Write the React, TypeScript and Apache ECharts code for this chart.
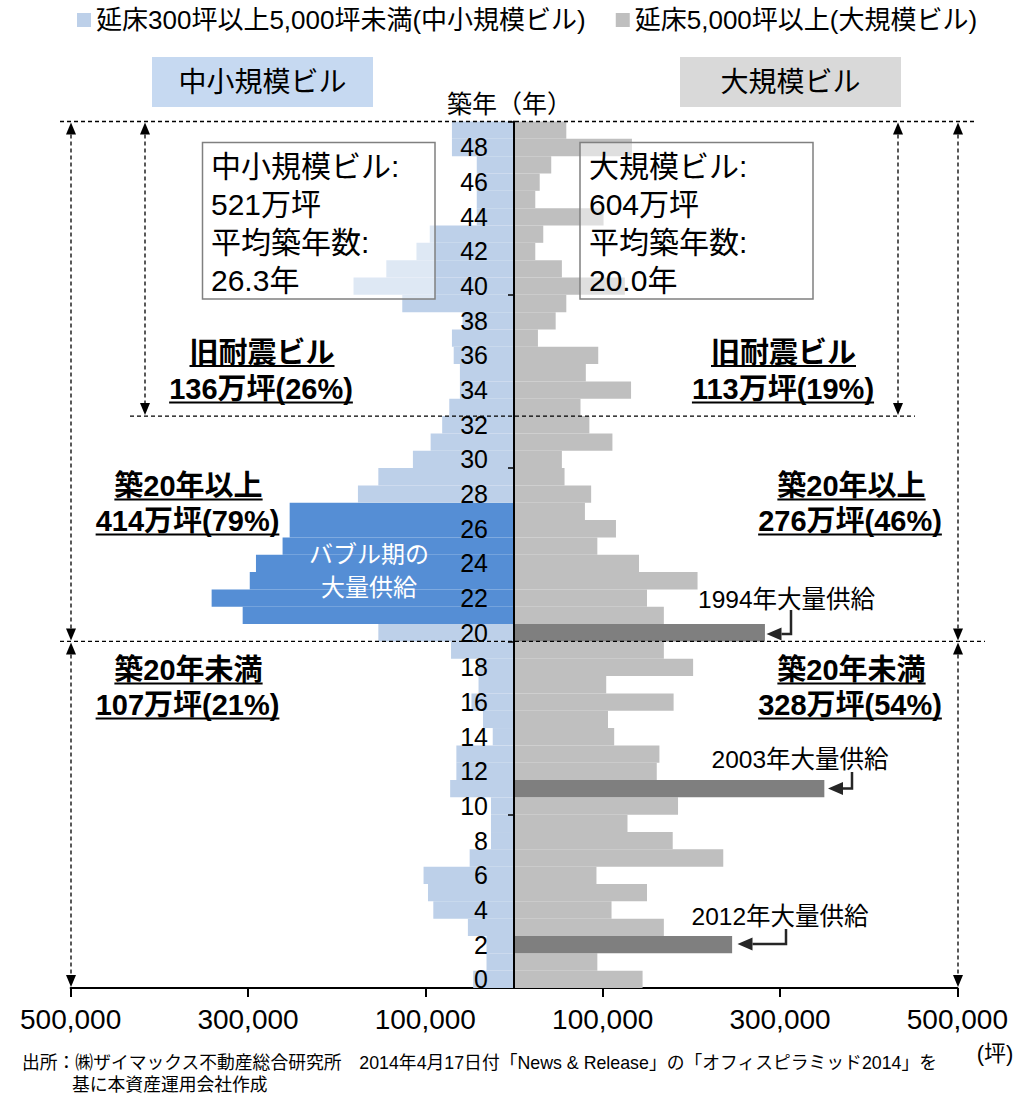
import React, { useEffect, useRef } from "react";
import * as echarts from "echarts";

// ---------------- DATA ----------------
const ages = [
  "0", "1", "2", "3", "4", "5", "6", "7", "8", "9",
  "10", "11", "12", "13", "14", "15", "16", "17", "18", "19",
  "20", "21", "22", "23", "24", "25", "26", "27", "28", "29",
  "30", "31", "32", "33", "34", "35", "36", "37", "38", "39",
  "40", "41", "42", "43", "44", "45", "46", "47", "48", "49",
];
// 延床300坪以上5,000坪未満 (坪), index = 築年
const smallBldg = [
  46000, 31000, 31000, 52000, 91000, 97000, 102000, 50000, 26000, 26000,
  26000, 72000, 65000, 65000, 24000, 35000, 48000, 40000, 40000, 71000,
  153000, 306000, 341000, 298000, 291000, 261000, 253000, 253000, 176000, 153000,
  114000, 94000, 81000, 73000, 61000, 61000, 68000, 70000, 58000, 126000,
  181000, 144000, 110000, 95000, 42000, 42000, 42000, 42000, 70000, 70000,
];
// 延床5,000坪以上 (坪), index = 築年
const largeBldg = [
  145000, 94000, 246000, 169000, 110000, 150000, 93000, 236000, 179000, 128000,
  185000, 350000, 161000, 164000, 113000, 106000, 180000, 104000, 202000, 169000,
  283000, 169000, 150000, 207000, 141000, 94000, 115000, 80000, 87000, 57000,
  54000, 111000, 85000, 75000, 132000, 81000, 95000, 27000, 47000, 59000,
  125000, 54000, 24000, 33000, 101000, 24000, 29000, 42000, 133000, 59000,
];
const bubbleAges = ["21", "22", "23", "24", "25", "26", "27"];
const peakAges = ["2", "11", "20"];
const seriesNames = ["延床300坪以上5,000坪未満(中小規模ビル)", "延床5,000坪以上(大規模ビル)"];
const tickAges = ["10", "20", "30", "40"];

// ---------------- STYLE ----------------
const FONT = '"Liberation Sans", "Noto Sans CJK JP", sans-serif';
const C_SMALL = "#bdd0e9";
const C_BUBBLE = "#558ed5";
const C_LARGE = "#bfbfbf";
const C_PEAK = "#7f7f7f";

const W = 1033;
const H = 1096;
const GRID_L = 70.65;
const GRID_R = 957.35;
const GRID_T = 121.5;
const GRID_B = 988;
const ZERO_X = 514;

let measureCtx: CanvasRenderingContext2D | null = null;
function measure(text: string, font: string): number {
  if (!measureCtx) measureCtx = document.createElement("canvas").getContext("2d");
  if (!measureCtx) return text.length * 20;
  measureCtx.font = font;
  return measureCtx.measureText(text).width;
}

function txt(text: string, x: number, y: number, size: number, o: any = {}) {
  const align = o.align || "left";
  return {
    type: "text",
    z: 100,
    style: {
      text,
      x,
      y,
      fill: o.fill || "#000",
      fontSize: size,
      fontFamily: o.family || FONT,
      fontWeight: o.weight || "normal",
      align,
      textAlign: align,
      verticalAlign: "middle",
      textVerticalAlign: "middle",
      lineHeight: o.lh || Math.round(size * 1.2),
    },
  };
}

function uText(text: string, cx: number, cy: number, size: number) {
  const w = measure(text, `bold ${size}px ${FONT}`);
  return [
    txt(text, cx, cy, size, { align: "center", weight: "bold" }),
    {
      type: "line",
      z: 100,
      shape: { x1: cx - w / 2, y1: cy + 13.5, x2: cx + w / 2, y2: cy + 13.5 },
      style: { stroke: "#000", lineWidth: 1.8 },
    },
  ];
}

function dashLine(x1: number, y1: number, x2: number, y2: number) {
  return {
    type: "line",
    z: 90,
    shape: { x1, y1, x2, y2 },
    style: { stroke: "#000", lineWidth: 1.3, lineDash: [4, 3] },
  };
}

function head(x: number, tipY: number, dir: number) {
  const by = tipY - dir * 12;
  return {
    type: "polygon",
    z: 95,
    shape: { points: [[x, tipY], [x - 5, by], [x + 5, by]] },
    style: { fill: "#000" },
  };
}

function dblArrow(x: number, y1: number, y2: number) {
  return [dashLine(x, y1 + 6, x, y2 - 6), head(x, y1 + 1, -1), head(x, y2 - 1, 1)];
}

function bentArrow(vx: number, vy1: number, hy: number, tipX: number) {
  const baseX = tipX + 15;
  return [
    {
      type: "polyline",
      z: 100,
      shape: { points: [[vx, vy1], [vx, hy], [baseX, hy]] },
      style: { stroke: "#262626", lineWidth: 2.5, fill: null },
    },
    {
      type: "polygon",
      z: 100,
      shape: { points: [[tipX, hy], [baseX, hy - 6.5], [baseX, hy + 6.5]] },
      style: { fill: "#262626" },
    },
  ];
}

function buildGraphics() {
  const rowH = (GRID_B - GRID_T) / ages.length;
  const y33 = GRID_B - 33 * rowH;
  const y20 = GRID_B - 20 * rowH;
  const g: any[] = [];

  // header boxes
  g.push({ type: "rect", z: 100, shape: { x: 152, y: 57, width: 221, height: 50 }, style: { fill: "#c6d9f1" } });
  g.push(txt("中小規模ビル", 262.5, 82, 28, { align: "center" }));
  g.push({ type: "rect", z: 100, shape: { x: 680, y: 57, width: 221, height: 50 }, style: { fill: "#d9d9d9" } });
  g.push(txt("大規模ビル", 790.5, 82, 28, { align: "center" }));
  g.push(txt("築年（年）", 509.5, 104, 25, { align: "center" }));

  // dashed horizontal lines
  g.push(dashLine(60, GRID_T, 975, GRID_T));
  g.push(dashLine(130, y33, 915, y33));
  g.push(dashLine(60, y20, 985, y20));

  // vertical double arrows
  g.push(...dblArrow(71, GRID_T, y20));
  g.push(...dblArrow(71, y20, GRID_B));
  g.push(...dblArrow(145, GRID_T, y33));
  g.push(...dblArrow(958, GRID_T, y20));
  g.push(...dblArrow(958, y20, GRID_B));
  g.push(...dblArrow(898, GRID_T, y33));

  // summary boxes (semi-transparent)
  g.push({
    type: "rect", z: 98,
    shape: { x: 202.5, y: 142.5, width: 232.5, height: 156.5 },
    style: { fill: "rgba(255,255,255,0.5)", stroke: "#808080", lineWidth: 1.5 },
  });
  g.push(txt("中小規模ビル:\n521万坪\n平均築年数:\n26.3年", 211, 223.5, 30, { lh: 38 }));
  g.push({
    type: "rect", z: 98,
    shape: { x: 580, y: 142.5, width: 233, height: 156.5 },
    style: { fill: "rgba(255,255,255,0.5)", stroke: "#808080", lineWidth: 1.5 },
  });
  g.push(txt("大規模ビル:\n604万坪\n平均築年数:\n20.0年", 589, 223.5, 30, { lh: 38 }));

  // underlined annotations
  const S = 29;
  g.push(...uText("旧耐震ビル", 262, 352.5, S));
  g.push(...uText("136万坪(26%)", 261, 389, S));
  g.push(...uText("築20年以上", 188.5, 486, S));
  g.push(...uText("414万坪(79%)", 187.5, 521, S));
  g.push(...uText("築20年未満", 188.5, 670, S));
  g.push(...uText("107万坪(21%)", 187.5, 705, S));
  g.push(...uText("旧耐震ビル", 783.5, 352.5, S));
  g.push(...uText("113万坪(19%)", 783, 389, S));
  g.push(...uText("築20年以上", 851.5, 486, S));
  g.push(...uText("276万坪(46%)", 850, 521, S));
  g.push(...uText("築20年未満", 851.5, 670, S));
  g.push(...uText("328万坪(54%)", 850, 705, S));

  // bubble label
  g.push(txt("バブル期の\n大量供給", 369, 570.5, 24, { align: "center", fill: "#fff", lh: 33 }));

  // peak supply labels + arrows
  g.push(txt("1994年大量供給", 698, 599, 24.5));
  g.push(...bentArrow(791, 610, 634, 766.5));
  g.push(txt("2003年大量供給", 711.5, 759, 24.5));
  g.push(...bentArrow(852, 772, 788.5, 828));
  g.push(txt("2012年大量供給", 691.5, 916, 24.5));
  g.push(...bentArrow(786, 929, 944, 737.5));

  // unit & source
  g.push(txt("(坪)", 995, 1053, 22, { align: "center" }));
  g.push(txt("出所：㈱ザイマックス不動産総合研究所　2014年4月17日付「News & Release」の「オフィスピラミッド2014」を", 22, 1063, 17.8));
  g.push(txt("基に本資産運用会社作成", 72, 1085, 17.8));
  return g;
}

export default function App() {
  const ref = useRef<HTMLDivElement>(null);

  useEffect(() => {
    if (!ref.current) return;
    const chart = echarts.init(ref.current, undefined, { renderer: "svg" });

    const leftData = ages.map((a, i) => ({
      value: -smallBldg[i],
      itemStyle: { color: bubbleAges.includes(a) ? C_BUBBLE : C_SMALL },
    }));
    const rightData = ages.map((a, i) => ({
      value: largeBldg[i],
      itemStyle: { color: peakAges.includes(a) ? C_PEAK : C_LARGE },
    }));

    chart.setOption({
      animation: false,
      textStyle: { fontFamily: FONT },
      legend: {
        left: 77,
        top: 7,
        padding: 0,
        itemWidth: 14,
        itemHeight: 14,
        itemGap: 30,
        icon: "rect",
        textStyle: { fontSize: 26, color: "#000", fontFamily: FONT },
        data: seriesNames,
      },
      grid: {
        left: GRID_L,
        right: W - GRID_R,
        top: GRID_T,
        bottom: H - GRID_B,
        containLabel: false,
      },
      xAxis: {
        type: "value",
        min: -500000,
        max: 500000,
        interval: 200000,
        splitLine: { show: false },
        axisLine: { show: true, onZero: false, lineStyle: { color: "#000", width: 2 } },
        axisTick: { show: true, length: 9, lineStyle: { color: "#000", width: 2 } },
        axisLabel: {
          margin: 17,
          fontSize: 28,
          color: "#000",
          fontFamily: FONT,
          formatter: (v: number) => Math.abs(v).toLocaleString("en-US"),
        },
      },
      yAxis: {
        type: "category",
        data: ages,
        z: 10,
        offset: -(ZERO_X - GRID_L),
        axisLine: { show: true, onZero: false, lineStyle: { color: "#000", width: 2 } },
        axisTick: {
          show: true,
          length: 6,
          lineStyle: { color: "#000", width: 1.5 },
          interval: (idx: number, val: string) => tickAges.includes(val),
        },
        axisLabel: {
          interval: 1,
          margin: 26,
          fontSize: 25,
          color: "#000",
          fontFamily: FONT,
        },
        splitLine: { show: false },
      },
      series: [
        {
          name: seriesNames[0],
          type: "bar",
          data: leftData,
          barGap: "-100%",
          barCategoryGap: "0%",
          itemStyle: { color: C_SMALL },
        },
        {
          name: seriesNames[1],
          type: "bar",
          data: rightData,
          barGap: "-100%",
          barCategoryGap: "0%",
          itemStyle: { color: C_LARGE },
        },
      ],
      graphic: { elements: buildGraphics() },
    });

    return () => chart.dispose();
  }, []);

  return (
    <div
      ref={ref}
      style={{ position: "fixed", left: 0, top: 0, width: W, height: H, background: "#fff" }}
    />
  );
}
